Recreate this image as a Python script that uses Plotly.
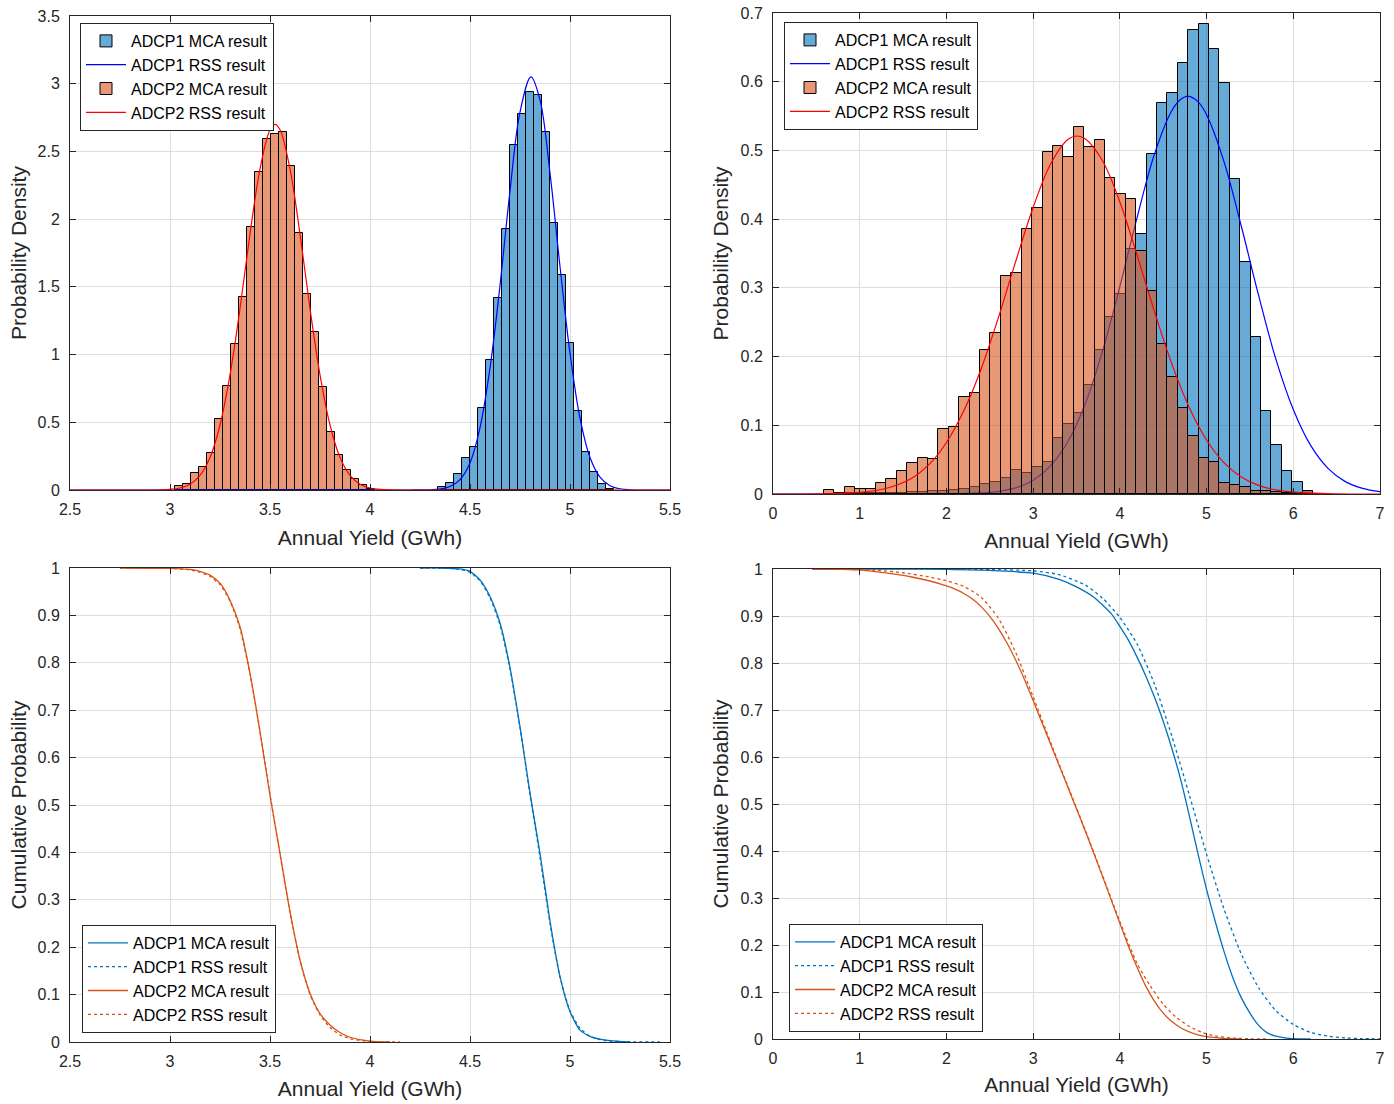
import plotly.graph_objects as go

# ---------------- DATA ----------------
# Top-left: probability density, narrow spread
tl_bin_width = 0.04
tl_adcp1_bin_start = 4.342
tl_adcp1_density = [0.024, 0.049, 0.116, 0.239, 0.32, 0.608, 0.96, 1.42, 1.925, 2.548, 2.775,
                    2.937, 2.917, 2.642, 1.974, 1.588, 1.088, 0.586, 0.278, 0.131, 0.042, 0.01]
tl_adcp2_bin_start = 3.025
tl_adcp2_density = [0.03, 0.045, 0.128, 0.17, 0.27, 0.524, 0.77, 1.076, 1.423, 1.945, 2.346, 2.59,
                    2.63, 2.64, 2.393, 1.896, 1.448, 1.169, 0.763, 0.43, 0.258, 0.148, 0.079, 0.037, 0.01]
tl_adcp1_rss_x = [2.5, 4.2, 4.3, 4.35, 4.4, 4.45, 4.5, 4.55, 4.6, 4.65, 4.7, 4.75, 4.805, 4.85, 4.9,
                  4.95, 5.0, 5.05, 5.1, 5.15, 5.2, 5.25, 5.3, 5.4, 5.5]
tl_adcp1_rss_y = [0, 0, 0.002, 0.007, 0.026, 0.077, 0.20, 0.46, 0.90, 1.51, 2.21, 2.79, 3.05, 2.88, 2.34,
                  1.65, 1.01, 0.53, 0.24, 0.095, 0.032, 0.009, 0.002, 0, 0]
tl_adcp2_rss_x = [2.5, 2.9, 2.95, 3.0, 3.05, 3.1, 3.15, 3.2, 3.25, 3.3, 3.35, 3.4, 3.45, 3.5, 3.525,
                  3.55, 3.6, 3.65, 3.7, 3.75, 3.8, 3.85, 3.9, 3.95, 4.0, 4.05, 4.1, 4.2, 5.5]
tl_adcp2_rss_y = [0, 0, 0.001, 0.005, 0.015, 0.043, 0.108, 0.24, 0.48, 0.85, 1.34, 1.89, 2.37, 2.66, 2.70,
                  2.66, 2.37, 1.89, 1.34, 0.85, 0.48, 0.24, 0.108, 0.043, 0.015, 0.005, 0.001, 0, 0]

# Top-right: probability density, wide spread
tr_bin_width = 0.12
tr_bin_start = 0.588
tr_adcp1_density = [0, 0, 0.001, 0.001, 0.001, 0.002, 0.002, 0.002, 0.003, 0.003, 0.004, 0.005, 0.006,
                    0.007, 0.01, 0.0145, 0.017, 0.024, 0.035, 0.031, 0.04, 0.046, 0.081, 0.102, 0.118,
                    0.158, 0.21, 0.257, 0.291, 0.356, 0.379, 0.4947, 0.5696, 0.583, 0.6266, 0.675,
                    0.6845, 0.648, 0.5976, 0.459, 0.3377, 0.229, 0.1207, 0.071, 0.0338, 0.0178, 0.005, 0]
tr_adcp2_density = [0.006, 0.002, 0.0097, 0.007, 0.007, 0.016, 0.0218, 0.034, 0.0445, 0.052, 0.0505,
                    0.095, 0.097, 0.1415, 0.1475, 0.209, 0.235, 0.317, 0.322, 0.385, 0.416, 0.4976,
                    0.507, 0.490, 0.534, 0.505, 0.5145, 0.46, 0.437, 0.429, 0.354, 0.2957, 0.218, 0.17,
                    0.1256, 0.0845, 0.0517, 0.046, 0.0155, 0.013, 0.0097, 0.005, 0.004, 0.003, 0.002,
                    0.001, 0.004, 0]
tr_adcp1_rss_x = [0, 1.0, 1.5, 2.0, 2.5, 2.8, 3.0, 3.2, 3.4, 3.6, 3.8, 4.0, 4.2, 4.4, 4.6, 4.7, 4.787,
                  4.9, 5.0, 5.2, 5.4, 5.6, 5.8, 6.0, 6.2, 6.4, 6.6, 6.8, 7.0]
tr_adcp1_rss_y = [0, 0, 0, 0.0002, 0.0023, 0.009, 0.020, 0.041, 0.076, 0.131, 0.208, 0.302, 0.403,
                  0.495, 0.558, 0.574, 0.579, 0.571, 0.552, 0.484, 0.39, 0.289, 0.196, 0.123, 0.0707,
                  0.0374, 0.018, 0.0081, 0.0033]
tr_adcp2_rss_x = [0, 0.5, 1.0, 1.3, 1.6, 1.8, 2.0, 2.2, 2.4, 2.6, 2.8, 3.0, 3.2, 3.4, 3.51, 3.6, 3.8,
                  4.0, 4.2, 4.4, 4.6, 4.8, 5.0, 5.2, 5.4, 5.6, 5.8, 6.0, 6.5, 7.0]
tr_adcp2_rss_y = [0, 0.0002, 0.0024, 0.008, 0.023, 0.043, 0.075, 0.121, 0.182, 0.257, 0.339, 0.417,
                  0.48, 0.516, 0.521, 0.517, 0.485, 0.425, 0.347, 0.265, 0.189, 0.126, 0.0786, 0.0457,
                  0.0248, 0.0126, 0.006, 0.0026, 0.0003, 0]

# Bottom-left: cumulative (exceedance) probability, narrow spread
bl_adcp1_mca_x = [4.25, 4.35, 4.4, 4.45, 4.5, 4.55, 4.6, 4.65, 4.7, 4.75, 4.8, 4.85, 4.9, 4.95, 5.0,
                  5.05, 5.1, 5.15, 5.2, 5.3]
bl_adcp1_mca_y = [1.0, 1.0, 0.999, 0.998, 0.993, 0.975, 0.94, 0.884, 0.79, 0.665, 0.525, 0.398, 0.255,
                  0.138, 0.064, 0.025, 0.012, 0.006, 0.003, 0.0]
bl_adcp1_rss_x = [4.25, 4.4, 4.45, 4.5, 4.55, 4.6, 4.65, 4.7, 4.75, 4.8, 4.85, 4.9, 4.95, 5.0, 5.05,
                  5.1, 5.15, 5.2, 5.3, 5.45]
bl_adcp1_rss_y = [1.0, 0.999, 0.997, 0.991, 0.973, 0.937, 0.88, 0.787, 0.663, 0.522, 0.39, 0.25, 0.137,
                  0.066, 0.029, 0.012, 0.005, 0.002, 0.0005, 0.0]
bl_adcp2_mca_x = [2.75, 3.0, 3.1, 3.15, 3.2, 3.25, 3.3, 3.35, 3.4, 3.45, 3.5, 3.55, 3.6, 3.65, 3.7,
                  3.75, 3.8, 3.85, 3.9, 3.95, 4.0, 4.1]
bl_adcp2_mca_y = [1.0, 0.999, 0.997, 0.993, 0.985, 0.968, 0.932, 0.876, 0.778, 0.655, 0.52, 0.398,
                  0.275, 0.173, 0.103, 0.06, 0.036, 0.02, 0.01, 0.005, 0.002, 0.0]
bl_adcp2_rss_x = [2.75, 3.0, 3.1, 3.15, 3.2, 3.25, 3.3, 3.35, 3.4, 3.45, 3.5, 3.55, 3.6, 3.65, 3.7,
                  3.75, 3.8, 3.85, 3.9, 4.0, 4.15]
bl_adcp2_rss_y = [1.0, 0.999, 0.996, 0.991, 0.982, 0.965, 0.93, 0.872, 0.776, 0.656, 0.522, 0.396,
                  0.273, 0.172, 0.1, 0.057, 0.031, 0.015, 0.007, 0.001, 0.0]

# Bottom-right: cumulative (exceedance) probability, wide spread
br_adcp1_mca_x = [0.45, 1.0, 1.5, 2.0, 2.5, 3.0, 3.3, 3.5, 3.7, 3.9, 4.0, 4.1, 4.2, 4.3, 4.4, 4.5,
                  4.6, 4.7, 4.8, 4.9, 5.0, 5.1, 5.2, 5.3, 5.4, 5.5, 5.6, 5.7, 5.8, 5.9, 6.0, 6.2]
br_adcp1_mca_y = [1.0, 1.0, 1.0, 0.999, 0.997, 0.991, 0.978, 0.962, 0.94, 0.905, 0.878, 0.848, 0.812,
                  0.772, 0.727, 0.676, 0.618, 0.553, 0.476, 0.395, 0.318, 0.25, 0.187, 0.132, 0.088,
                  0.055, 0.029, 0.013, 0.006, 0.0025, 0.0005, 0.0]
br_adcp1_rss_x = [0.45, 2.0, 2.5, 3.0, 3.3, 3.6, 3.8, 4.0, 4.2, 4.4, 4.6, 4.8, 5.0, 5.2, 5.4, 5.6, 5.8,
                  6.0, 6.2, 6.4, 6.6, 6.8, 7.0]
br_adcp1_rss_y = [1.0, 1.0, 0.999, 0.996, 0.988, 0.966, 0.938, 0.897, 0.84, 0.755, 0.644, 0.52, 0.393,
                  0.277, 0.181, 0.109, 0.06, 0.031, 0.014, 0.006, 0.0023, 0.0008, 0.0003]
br_adcp2_mca_x = [0.45, 0.8, 1.0, 1.2, 1.4, 1.6, 1.8, 2.0, 2.1, 2.2, 2.3, 2.4, 2.5, 2.6, 2.7, 2.8,
                  2.9, 3.0, 3.1, 3.2, 3.3, 3.4, 3.5, 3.6, 3.7, 3.8, 3.9, 4.0, 4.1, 4.2, 4.3, 4.4, 4.5,
                  4.6, 4.7, 4.8, 4.9, 5.0, 5.2, 5.4]
br_adcp2_mca_y = [1.0, 0.9995, 0.998, 0.994, 0.989, 0.983, 0.975, 0.964, 0.957, 0.948, 0.936, 0.92,
                  0.899, 0.873, 0.842, 0.806, 0.765, 0.72, 0.674, 0.628, 0.582, 0.536, 0.49, 0.443,
                  0.395, 0.346, 0.296, 0.246, 0.197, 0.152, 0.112, 0.08, 0.055, 0.037, 0.024, 0.015,
                  0.009, 0.005, 0.0015, 0.0]
br_adcp2_rss_x = [0.45, 0.9, 1.2, 1.5, 1.8, 2.0, 2.2, 2.4, 2.6, 2.8, 3.0, 3.2, 3.4, 3.6, 3.8, 4.0,
                  4.2, 4.35, 4.5, 4.65, 4.8, 4.95, 5.1, 5.3, 5.5, 5.7]
br_adcp2_rss_y = [1.0, 0.999, 0.997, 0.992, 0.983, 0.975, 0.963, 0.94, 0.895, 0.822, 0.728, 0.632,
                  0.538, 0.445, 0.348, 0.25, 0.16, 0.113, 0.074, 0.046, 0.027, 0.014, 0.0065, 0.002,
                  0.0005, 0.0]

series_names = ["ADCP1 MCA result", "ADCP1 RSS result", "ADCP2 MCA result", "ADCP2 RSS result"]
x_title = "Annual Yield (GWh)"
y_title_top = "Probability Density"
y_title_bottom = "Cumulative Probability"

# ---------------- STYLE / GEOMETRY ----------------
W, H = 1394, 1104
ML, MR, MT, MB = 70, 14, 13, 62          # plot area = [70, 1380] x [13, 1042] px
BLUE_FACE = "rgba(0,114,189,0.6)"
ORANGE_FACE = "rgba(217,83,25,0.6)"
BLUE_LINE = "#0000FF"
RED_LINE = "#FF0000"
CDF_BLUE = "#0072BD"
CDF_ORANGE = "#D95319"
AX = "#262626"
FONT = "Liberation Sans, Arial, Helvetica, sans-serif"


def px_x(p):
    return (p - ML) / (W - ML - MR)


def px_y(p):
    return (H - MB - p) / (H - MT - MB)


def edges(start, width, n):
    return [start + i * width for i in range(n)]


fig = go.Figure()

# ---- Top-left ----
fig.add_trace(go.Bar(x=edges(tl_adcp1_bin_start, tl_bin_width, len(tl_adcp1_density)), y=tl_adcp1_density,
                     width=tl_bin_width, offset=0, name=series_names[0],
                     marker=dict(color=BLUE_FACE, line=dict(color="black", width=1)),
                     xaxis="x", yaxis="y", legend="legend"))
fig.add_trace(go.Scatter(x=tl_adcp1_rss_x, y=tl_adcp1_rss_y, mode="lines", name=series_names[1],
                         line=dict(color=BLUE_LINE, width=1.2, shape="spline"),
                         xaxis="x", yaxis="y", legend="legend"))
fig.add_trace(go.Bar(x=edges(tl_adcp2_bin_start, tl_bin_width, len(tl_adcp2_density)), y=tl_adcp2_density,
                     width=tl_bin_width, offset=0, name=series_names[2],
                     marker=dict(color=ORANGE_FACE, line=dict(color="black", width=1)),
                     xaxis="x", yaxis="y", legend="legend"))
fig.add_trace(go.Scatter(x=tl_adcp2_rss_x, y=tl_adcp2_rss_y, mode="lines", name=series_names[3],
                         line=dict(color=RED_LINE, width=1.2, shape="spline"),
                         xaxis="x", yaxis="y", legend="legend"))

# ---- Top-right (ADCP2 drawn on an overlay so it sits above ADCP1) ----
fig.add_trace(go.Bar(x=edges(tr_bin_start, tr_bin_width, len(tr_adcp1_density)), y=tr_adcp1_density,
                     width=tr_bin_width, offset=0, name=series_names[0],
                     marker=dict(color=BLUE_FACE, line=dict(color="black", width=1)),
                     xaxis="x2", yaxis="y2", legend="legend2"))
fig.add_trace(go.Scatter(x=tr_adcp1_rss_x, y=tr_adcp1_rss_y, mode="lines", name=series_names[1],
                         line=dict(color=BLUE_LINE, width=1.2, shape="spline"),
                         xaxis="x2", yaxis="y2", legend="legend2"))
fig.add_trace(go.Bar(x=edges(tr_bin_start, tr_bin_width, len(tr_adcp2_density)), y=tr_adcp2_density,
                     width=tr_bin_width, offset=0, name=series_names[2],
                     marker=dict(color=ORANGE_FACE, line=dict(color="black", width=1)),
                     xaxis="x5", yaxis="y5", legend="legend2"))
fig.add_trace(go.Scatter(x=tr_adcp2_rss_x, y=tr_adcp2_rss_y, mode="lines", name=series_names[3],
                         line=dict(color=RED_LINE, width=1.2, shape="spline"),
                         xaxis="x5", yaxis="y5", legend="legend2"))

# ---- Bottom-left ----
for xs, ys, nm, col, dash in [
    (bl_adcp1_mca_x, bl_adcp1_mca_y, series_names[0], CDF_BLUE, "solid"),
    (bl_adcp1_rss_x, bl_adcp1_rss_y, series_names[1], CDF_BLUE, "dot"),
    (bl_adcp2_mca_x, bl_adcp2_mca_y, series_names[2], CDF_ORANGE, "solid"),
    (bl_adcp2_rss_x, bl_adcp2_rss_y, series_names[3], CDF_ORANGE, "dot"),
]:
    fig.add_trace(go.Scatter(x=xs, y=ys, mode="lines", name=nm,
                             line=dict(color=col, width=1.3, dash=dash, shape="spline", smoothing=0.6),
                             xaxis="x3", yaxis="y3", legend="legend3"))

# ---- Bottom-right ----
for xs, ys, nm, col, dash in [
    (br_adcp1_mca_x, br_adcp1_mca_y, series_names[0], CDF_BLUE, "solid"),
    (br_adcp1_rss_x, br_adcp1_rss_y, series_names[1], CDF_BLUE, "dot"),
    (br_adcp2_mca_x, br_adcp2_mca_y, series_names[2], CDF_ORANGE, "solid"),
    (br_adcp2_rss_x, br_adcp2_rss_y, series_names[3], CDF_ORANGE, "dot"),
]:
    fig.add_trace(go.Scatter(x=xs, y=ys, mode="lines", name=nm,
                             line=dict(color=col, width=1.3, dash=dash, shape="spline", smoothing=0.6),
                             xaxis="x4", yaxis="y4", legend="legend4"))

# ---------------- AXES ----------------
common = dict(showline=True, linecolor=AX, linewidth=1, mirror="ticks", ticks="inside", ticklen=6,
              tickcolor=AX, showgrid=True, gridcolor="#DEDEDE", gridwidth=1, zeroline=False,
              automargin=False,
              tickfont=dict(size=16, color=AX, family=FONT), title_font=dict(size=21, color=AX, family=FONT))

dom_tl_x = [px_x(70), px_x(670)]
dom_tr_x = [px_x(773), px_x(1380)]
dom_tl_y = [px_y(490), px_y(16)]
dom_tr_y = [px_y(494), px_y(13)]
dom_bl_y = [px_y(1042), px_y(568)]
dom_br_y = [px_y(1039), px_y(569)]

fig.update_layout(
    xaxis=dict(common, domain=dom_tl_x, anchor="y", range=[2.5, 5.5], tick0=2.5, dtick=0.5,
               title=dict(text=x_title, standoff=13), ticklabelstandoff=5),
    yaxis=dict(common, domain=dom_tl_y, anchor="x", range=[0, 3.5], tick0=0, dtick=0.5,
               title=dict(text=y_title_top, standoff=5), ticklabelstandoff=6),
    xaxis2=dict(common, domain=dom_tr_x, anchor="y2", range=[0, 7], tick0=0, dtick=1,
                title=dict(text=x_title, standoff=12), ticklabelstandoff=5),
    yaxis2=dict(common, domain=dom_tr_y, anchor="x2", range=[0, 0.7], tick0=0, dtick=0.1,
                title=dict(text=y_title_top, standoff=6), ticklabelstandoff=6),
    xaxis3=dict(common, domain=dom_tl_x, anchor="y3", range=[2.5, 5.5], tick0=2.5, dtick=0.5,
                title=dict(text=x_title, standoff=12), ticklabelstandoff=5),
    yaxis3=dict(common, domain=dom_bl_y, anchor="x3", range=[0, 1], tick0=0, dtick=0.1,
                title=dict(text=y_title_bottom, standoff=5), ticklabelstandoff=6),
    xaxis4=dict(common, domain=dom_tr_x, anchor="y4", range=[0, 7], tick0=0, dtick=1,
                title=dict(text=x_title, standoff=11), ticklabelstandoff=5),
    yaxis4=dict(common, domain=dom_br_y, anchor="x4", range=[0, 1], tick0=0, dtick=0.1,
                title=dict(text=y_title_bottom, standoff=6), ticklabelstandoff=6),
    xaxis5=dict(overlaying="x2", anchor="y5", range=[0, 7], visible=False, showgrid=False,
                automargin=False),
    yaxis5=dict(overlaying="y2", anchor="x5", range=[0, 0.7], visible=False, showgrid=False,
                automargin=False),
)

legend_common = dict(bgcolor="white", bordercolor=AX, borderwidth=1, xanchor="left", yanchor="top",
                     font=dict(size=16, color="black", family=FONT), itemwidth=40, tracegroupgap=0,
                     itemclick=False)
fig.update_layout(
    legend=dict(legend_common, x=px_x(80), y=px_y(23)),
    legend2=dict(legend_common, x=px_x(784), y=px_y(22)),
    legend3=dict(legend_common, x=px_x(82), y=px_y(925)),
    legend4=dict(legend_common, x=px_x(789), y=px_y(924)),
    barmode="overlay",
    bargap=0,
    width=W, height=H,
    margin=dict(l=ML, r=MR, t=MT, b=MB, autoexpand=False),
    paper_bgcolor="white", plot_bgcolor="white",
    font=dict(family=FONT, color=AX),
    showlegend=True,
)

fig.write_html("out.html", config={"displayModeBar": False},
               post_script="document.body.style.margin='0';document.body.style.overflow='hidden';")
